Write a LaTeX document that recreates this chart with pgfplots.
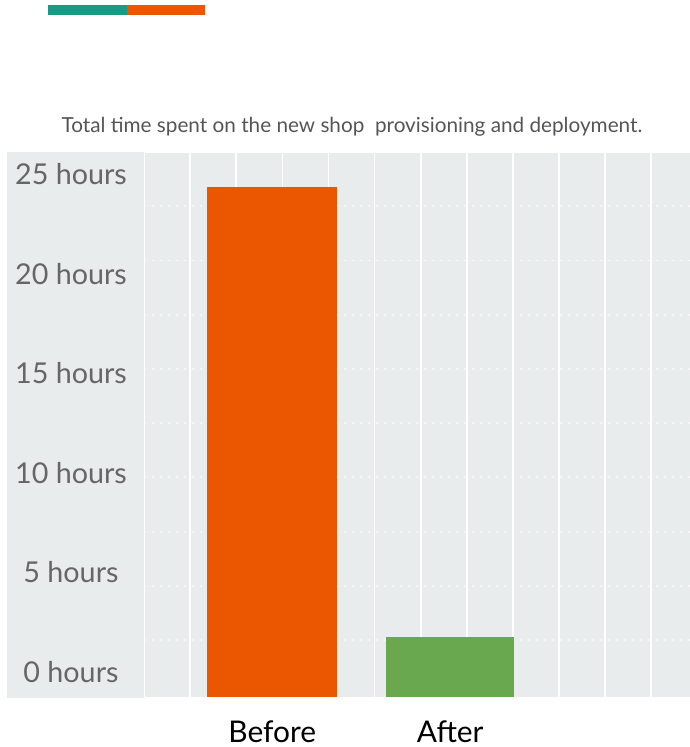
\documentclass[border=0pt]{standalone}
\usepackage{fontspec}
\setmainfont{Lato}
\usepackage{pgfplots}
\pgfplotsset{compat=1.18}
\definecolor{tealbar}{HTML}{1A9985}
\definecolor{orangebar}{HTML}{EB5600}
\definecolor{greenbar}{HTML}{6AA84F}
\definecolor{bggray}{HTML}{E8ECED}
\definecolor{labgray}{HTML}{666666}
\definecolor{titlegray}{HTML}{555555}

\begin{document}
\begin{tikzpicture}
\path[use as bounding box] (0bp,0bp) rectangle (690bp,747bp);
% left label panel and the colour strip on top
\fill[bggray] (7bp,49bp) rectangle (144bp,595bp);
\fill[tealbar] (48bp,732bp) rectangle (127bp,742bp);
\fill[orangebar] (127bp,732bp) rectangle (205bp,742bp);
\node[text=titlegray, font=\fontsize{20.8}{24}\selectfont] at (352bp,620bp)
  {Total time spent on the new shop\ \ provisioning and deployment.};

\begin{axis}[
    at={(145bp,50bp)}, anchor=south west,
    scale only axis, width=545bp, height=544bp,
    xmin=0.02, xmax=11.84, ymin=0, ymax=27.31,
    axis background/.style={fill=bggray},
    axis line style={draw=none},
    major tick length=0pt,
    xtick={1,2,...,11}, xticklabels={},
    xmajorgrids,
    major grid style={white, line width=1.6bp},
    ytick={1.25,6.25,11.25,16.25,21.25,26.25},
    yticklabels={0 hours,5 hours,10 hours,15 hours,20 hours,25 hours},
    yticklabel style={anchor=center, xshift=-74bp, text=labgray,
      font=\fontsize{28.8}{32}\selectfont},
    extra y ticks={2.86,5.58,8.30,11.03,13.75,16.47,19.19,21.92,24.64},
    extra y tick labels={},
    extra y tick style={ymajorgrids=true,
      major grid style={white, line width=1.7bp, line cap=round,
        dash pattern=on 0.1bp off 7.9bp}},
    extra x ticks={2.78,6.64},
    extra x tick labels={Before,After},
    extra x tick style={xmajorgrids=false,
      ticklabel style={anchor=center, inner sep=0pt, yshift=-35bp, text=black,
        font=\fontsize{30}{33}\selectfont}},
  ]
  \addplot[ybar, bar width=2.82, fill=orangebar, draw=none, bar shift=0pt]
    coordinates {(2.78,25.6)};
  \addplot[ybar, bar width=2.78, fill=greenbar, draw=none, bar shift=0pt]
    coordinates {(6.64,3.0)};
\end{axis}
\end{tikzpicture}
\end{document}
